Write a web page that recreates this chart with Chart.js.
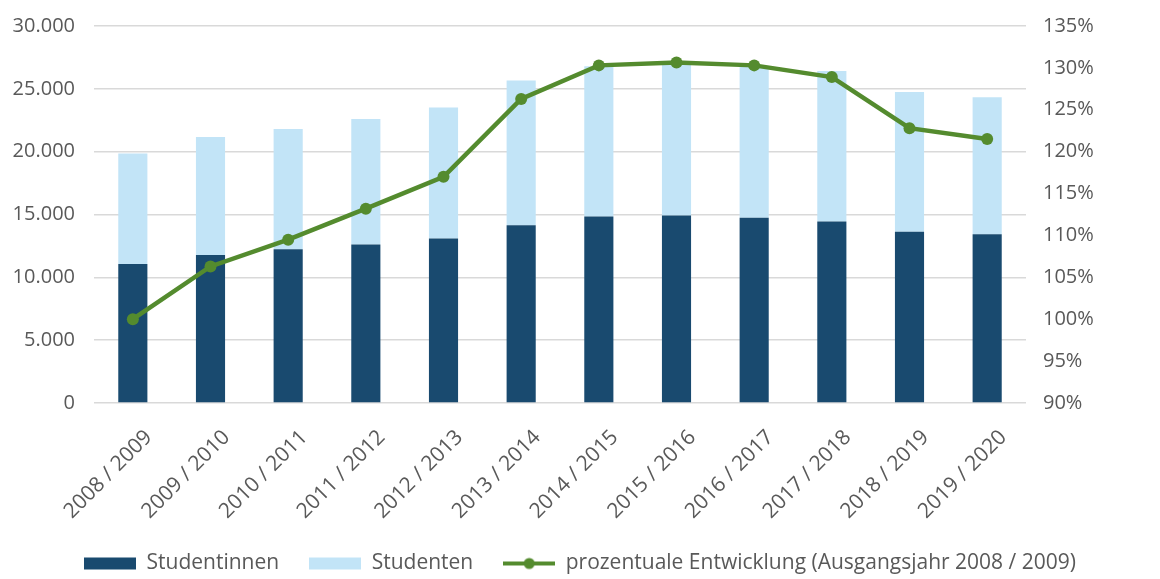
<!DOCTYPE html>
<html>
<head>
<meta charset="utf-8">
<script src="https://cdn.jsdelivr.net/npm/chart.js@4/dist/chart.umd.min.js"></script>
<style>
  html, body { margin: 0; padding: 0; background: #fff; }
  #wrap { width: 1160px; height: 579px; }
</style>
</head>
<body>
<div id="wrap"><canvas id="grafico" width="1160" height="579"></canvas></div>
<script>
// Semester (Kategorien)
const semester = ['2008 / 2009', '2009 / 2010', '2010 / 2011', '2011 / 2012', '2012 / 2013', '2013 / 2014',
    '2014 / 2015', '2015 / 2016', '2016 / 2017', '2017 / 2018', '2018 / 2019', '2019 / 2020'];

// Werte
const studentinnen = [11060, 11770, 12230, 12620, 13100, 14140, 14850, 14930, 14740, 14450, 13630, 13420];
const studenten = [8800, 9390, 9570, 9970, 10420, 11530, 11950, 11970, 12060, 11960, 11110, 10920];
const entwicklung = [100, 106.3, 109.5, 113.2, 117.0, 126.3, 130.3, 130.65, 130.3, 128.9, 122.8, 121.5];

// Achsen
const achseLinks = { min: 0, max: 30000, step: 5000 };
const achseRechts = { min: 90, max: 135, step: 5 };

const farbeDunkel = '#194a6f';
const farbeHell = '#c2e4f7';
const farbeGruen = '#548b2e';
const farbeText = '#595959';
const farbeGitter = '#d9d9d9';

Chart.defaults.font.family = "'Open Sans', sans-serif";
Chart.defaults.color = farbeText;

// kleine Icons für die Legende
function icon(tipo, cor) {
    const c = document.createElement('canvas');
    c.width = 52;
    c.height = 14;
    const g = c.getContext('2d');
    if (tipo === 'rect') {
        g.fillStyle = cor;
        g.fillRect(0, 1, 52, 12);
    } else {
        g.strokeStyle = cor;
        g.lineWidth = 4;
        g.beginPath();
        g.moveTo(0, 7);
        g.lineTo(52, 7);
        g.stroke();
        g.fillStyle = cor;
        g.beginPath();
        g.arc(26, 7, 5.5, 0, Math.PI * 2);
        g.fill();
    }
    return c;
}
const icones = [icon('rect', farbeDunkel), icon('rect', farbeHell), icon('line', farbeGruen)];

const ctx = document.getElementById('grafico').getContext('2d');
new Chart(ctx, {
    type: 'bar',
    data: {
        labels: semester,
        datasets: [{
            label: 'Studentinnen',
            data: studentinnen,
            backgroundColor: farbeDunkel,
            yAxisID: 'y',
            stack: 'gesamt',
            order: 1,
            categoryPercentage: 1,
            barPercentage: 0.375
        }, {
            label: 'Studenten',
            data: studenten,
            backgroundColor: farbeHell,
            yAxisID: 'y',
            stack: 'gesamt',
            order: 1,
            categoryPercentage: 1,
            barPercentage: 0.375
        }, {
            label: 'prozentuale Entwicklung (Ausgangsjahr 2008 / 2009)',
            data: entwicklung,
            type: 'line',
            yAxisID: 'y1',
            order: 0,
            borderColor: farbeGruen,
            backgroundColor: farbeGruen,
            borderWidth: 4.5,
            pointRadius: 6,
            pointBackgroundColor: farbeGruen,
            pointBorderWidth: 0,
            tension: 0,
            fill: false
        }]
    },
    options: {
        responsive: false,
        animation: false,
        layout: { padding: { top: 26, left: 0, right: 0, bottom: -5 } },
        plugins: {
            tooltip: { enabled: false },
            legend: {
                display: true,
                position: 'bottom',
                labels: {
                    usePointStyle: true,
                    pointStyleWidth: 52,
                    boxHeight: 14,
                    padding: 30,
                    color: farbeText,
                    font: { size: 21 },
                    sort: (a, b) => a.datasetIndex - b.datasetIndex,
                    generateLabels: chart => {
                        const itens = Chart.defaults.plugins.legend.labels.generateLabels(chart);
                        itens.forEach(it => { it.pointStyle = icones[it.datasetIndex]; });
                        return itens;
                    }
                }
            }
        },
        scales: {
            x: {
                stacked: true,
                grid: { display: false },
                border: { display: false },
                ticks: {
                    autoSkip: false,
                    minRotation: 45,
                    maxRotation: 45,
                    labelOffset: 16,
                    padding: 14,
                    font: { size: 21 },
                    color: farbeText
                },
                afterFit: s => {
                    s.height = 120;
                    s.paddingLeft = 0;
                    s.paddingRight = 0;
                }
            },
            y: {
                stacked: true,
                position: 'left',
                min: achseLinks.min,
                max: achseLinks.max,
                grid: { color: farbeGitter, lineWidth: 1.5, drawTicks: false },
                border: { display: false },
                ticks: {
                    stepSize: achseLinks.step,
                    padding: 19,
                    font: { size: 20 },
                    color: farbeText,
                    callback: v => v.toLocaleString('de-DE')
                },
                afterFit: s => {
                    s.width = 94;
                    s.paddingTop = 0;
                    s.paddingBottom = 0;
                }
            },
            y1: {
                position: 'right',
                min: achseRechts.min,
                max: achseRechts.max,
                grid: { display: false, drawTicks: false },
                border: { display: false },
                ticks: {
                    stepSize: achseRechts.step,
                    padding: 17,
                    font: { size: 20 },
                    color: farbeText,
                    callback: v => v + '%'
                },
                afterFit: s => {
                    s.width = 134;
                    s.paddingTop = 0;
                    s.paddingBottom = 0;
                }
            }
        }
    }
});
</script>
</body>
</html>
